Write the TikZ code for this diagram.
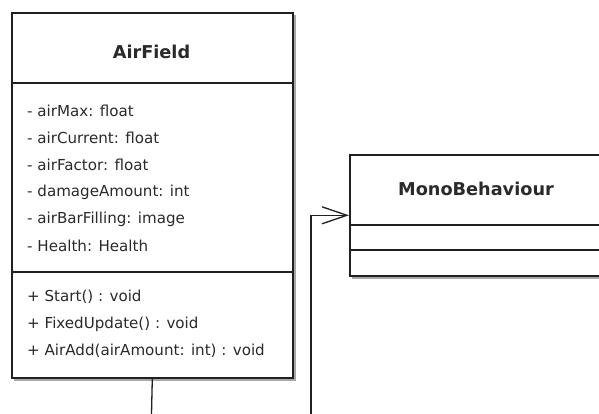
\documentclass[tikz,border=0pt]{standalone}
\usepackage{fontspec}
\setmainfont{DejaVu Sans}
\usetikzlibrary{arrows.meta}
\definecolor{edge}{HTML}{202020}
\definecolor{ink}{HTML}{2A2A2A}
\definecolor{shade}{HTML}{A8A8A8}
\tikzset{
  classbox/.style={draw=edge, line width=1.6pt, fill=white, inner sep=0pt,
    anchor=north west},
  classshadow/.style={fill=shade, draw=none},
  classname/.style={font=\bfseries\fontsize{17.7}{20}\selectfont, text=ink},
  member/.style={font=\fontsize{15.1}{17}\selectfont, text=ink, anchor=west,
    inner sep=0pt},
  divider/.style={draw=edge, line width=1.4pt},
  link/.style={draw=edge, line width=1.3pt},
  generalize/.style={link, -{Straight Barb[length=25pt, width=17pt, line width=1.3pt]}}
}
\begin{document}
\begin{tikzpicture}[x=1pt, y=-1pt]
\clip (0,0) rectangle (599,414);

% drop shadows
\fill[classshadow] (14,15) rectangle (296,381);
\fill[classshadow] (352,157) rectangle (610,279);

% class AirField
\node[classbox, minimum width=281pt, minimum height=365pt] (air) at (11,12) {};
\draw[divider] (air.west |- 0,83) -- (air.east |- 0,83);
\draw[divider] (air.west |- 0,272) -- (air.east |- 0,272);
\node[classname] (airname) at (151.5,52) {AirField};
\node[member] (a1) at (27,111) {- airMax: float};
\node[member] (a2) at (27,138) {- airCurrent: float};
\node[member] (a3) at (27,165) {- airFactor: float};
\node[member] (a4) at (27,192) {- damageAmount: int};
\node[member] (a5) at (27,219) {- airBarFilling: image};
\node[member] (a6) at (27,246) {- Health: Health};
\node[member] (m1) at (27,297) {+ Start() : void};
\node[member] (m2) at (27,324) {+ FixedUpdate() : void};
\node[member] (m3) at (27,351) {+ AirAdd(airAmount: int) : void};

% class MonoBehaviour
\node[classbox, minimum width=255pt, minimum height=121pt] (mono) at (349,154) {};
\draw[divider] (mono.west |- 0,225) -- (mono.east |- 0,225);
\draw[divider] (mono.west |- 0,250) -- (mono.east |- 0,250);
\node[classname] (mononame) at (476,189) {MonoBehaviour};

% connectors
\coordinate (airout) at (151.5,414);
\coordinate (gensrc) at (311,414);
\draw[link] (air.south) -- (airout);
\draw[generalize] (gensrc) |- (mono.west);
\end{tikzpicture}
\end{document}
